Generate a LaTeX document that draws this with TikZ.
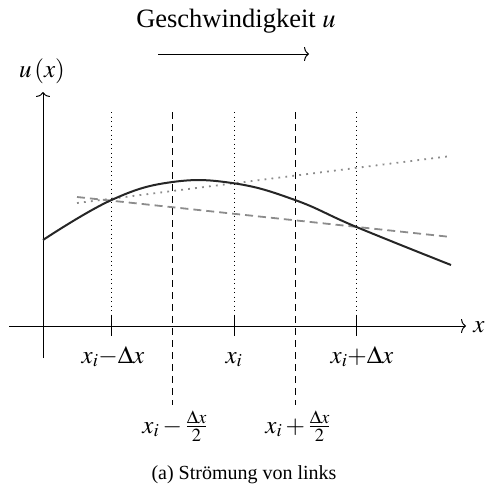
\documentclass[tikz,border=0pt]{standalone}
\usepackage{mathptmx}
\usepackage[no-math]{fontspec}
\setmainfont{Liberation Serif}
\usetikzlibrary{arrows.meta}
\begin{document}
\begin{tikzpicture}[x=1pt,y=-1pt,
  thin line/.style={line width=1pt},
  axisarrow/.style={thin line,-{To[length=5pt,width=14pt]}},
  curvestyle/.style={line width=2pt,black!85},
  vdot/.style={line width=0.9pt,dash pattern=on 0.9pt off 3.6pt},
  vdash/.style={line width=1pt,dash pattern=on 7pt off 5pt},
  gdot/.style={line width=1.8pt,black!45,dash pattern=on 1.8pt off 5.2pt},
  gdash/.style={line width=1.8pt,black!45,dash pattern=on 8pt off 5pt},
  lbl/.style={font=\fontsize{25}{29}\selectfont,anchor=base,inner sep=0pt},
  ttl/.style={font=\fontsize{26.5}{30}\selectfont,anchor=base,inner sep=0pt},
  captext/.style={font=\fontsize{20}{24}\selectfont,anchor=base,inner sep=0pt}]
\useasboundingbox (0,0) rectangle (487,493);
% title and flow arrow
\node[ttl] (title) at (236,27) {Geschwindigkeit $u$};
\coordinate (fa) at (158,54);
\coordinate (fb) at (309,54);
\draw[axisarrow] (fa) -- (fb);
% axes
\coordinate (yb) at (43,358);
\coordinate (yt) at (43,92);
\coordinate (xl) at (9,326);
\coordinate (xr) at (466,326);
\draw[axisarrow] (yb) -- (yt);
\draw[axisarrow] (xl) -- (xr);
\node[lbl] (ulab) at (42,77) {$u\left(x\right)$};
\node[lbl] (xlab) at (479,332) {$x$};
% ticks
\foreach \n/\px in {m/111.5,c/234,p/356.5}{
  \coordinate (t\n a) at (\px,316);
  \coordinate (t\n b) at (\px,336);
  \coordinate (d\n) at (\px,112);
  \draw[thin line] (t\n a) -- (t\n b);
  \draw[vdot] (d\n) -- (t\n a);
}
% dashed cell faces
\foreach \n/\px in {l/172.5,r/295}{
  \coordinate (f\n a) at (\px,112);
  \coordinate (f\n b) at (\px,405);
  \draw[vdash] (f\n a) -- (f\n b);
}
% gray secant lines
\coordinate (ga) at (77,203);
\coordinate (gb) at (451,156);
\draw[gdot] (ga) -- (gb);
\coordinate (ha) at (77,197);
\coordinate (hb) at (451,237);
\draw[gdash] (ha) -- (hb);
% curve
\draw[curvestyle] plot[smooth,tension=0.7] coordinates {(43,240) (111.5,200) (172.5,182) (234,183.3) (295,200) (356.5,227) (451,265)};
% labels
\node[lbl] (l1) at (113,363) {$x_i{-}\Delta x$};
\node[lbl] (l2) at (234,363) {$x_i$};
\node[lbl] (l3) at (362,363) {$x_i{+}\Delta x$};
\node[lbl] (l4) at (175,433) {$x_i-\frac{\Delta x}{2}$};
\node[lbl] (l5) at (298,433) {$x_i+\frac{\Delta x}{2}$};
\node[captext] (caption) at (244,479) {(a) Strömung von links};
\end{tikzpicture}
\end{document}
